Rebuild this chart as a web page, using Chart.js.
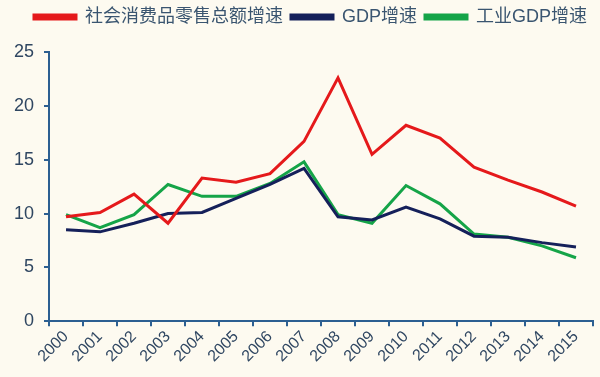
<!DOCTYPE html>
<html>
<head>
<meta charset="utf-8">
<script src="https://cdn.jsdelivr.net/npm/chart.js@4.4.0/dist/chart.umd.min.js"></script>
<style>
html,body{margin:0;padding:0;background:#fdfaf0;}
#wrap{width:600px;height:377px;position:relative;}
</style>
</head>
<body>
<div id="wrap"><canvas id="c" width="600" height="377"></canvas></div>
<script>
const categories = ['2000','2001','2002','2003','2004','2005','2006','2007','2008','2009','2010','2011','2012','2013','2014','2015'];
const retailGrowth = [9.7, 10.1, 11.8, 9.1, 13.3, 12.9, 13.7, 16.7, 22.6, 15.5, 18.2, 17.0, 14.3, 13.1, 12.0, 10.7];
const gdpGrowth = [8.5, 8.3, 9.1, 10.0, 10.1, 11.4, 12.7, 14.2, 9.7, 9.4, 10.6, 9.5, 7.9, 7.8, 7.3, 6.9];
const industryGdpGrowth = [9.9, 8.7, 9.9, 12.7, 11.6, 11.6, 12.8, 14.8, 9.9, 9.1, 12.6, 10.9, 8.1, 7.8, 7.0, 5.9];
const yTicks = [0, 5, 10, 15, 20, 25];
const seriesNames = ['社会消费品零售总额增速', 'GDP增速', '工业GDP增速'];

const axisColor = '#2c5f91';
const textColor = '#2f4661';
const legendColor = '#3a5570';
const fontFamily = '"Liberation Sans", "Noto Sans CJK SC", Arial, sans-serif';

const bgPlugin = {
  id: 'bg',
  beforeInit(chart) {
    const legend = chart.legend;
    if (legend) {
      const origFit = legend.fit;
      legend.fit = function () { origFit.call(this); this.height += 16; };
    }
  },
  afterLayout(chart) {
    if (chart.legend) {
      chart.legend.left += 12;
      chart.legend.right += 12;
    }
  },
  beforeDraw(chart) {
    const ctx = chart.ctx;
    ctx.save();
    ctx.fillStyle = '#fdfaf0';
    ctx.fillRect(0, 0, chart.width, chart.height);
    ctx.restore();
  }
};

new Chart(document.getElementById('c'), {
  type: 'line',
  data: {
    labels: categories,
    datasets: [
      { label: seriesNames[0], data: retailGrowth, borderColor: '#e5191b', backgroundColor: '#e5191b', borderWidth: 3, pointRadius: 0, tension: 0 },
      { label: seriesNames[1], data: gdpGrowth, borderColor: '#15205a', backgroundColor: '#15205a', borderWidth: 3, pointRadius: 0, tension: 0 },
      { label: seriesNames[2], data: industryGdpGrowth, borderColor: '#15a448', backgroundColor: '#15a448', borderWidth: 3, pointRadius: 0, tension: 0 }
    ]
  },
  options: {
    responsive: false,
    animation: false,
    devicePixelRatio: 1,
    layout: { padding: { left: 4, right: 7, top: 0, bottom: 10 } },
    plugins: {
      legend: {
        display: true,
        position: 'top',
        labels: {
          boxWidth: 42,
          boxHeight: 4,
          padding: 8,
          color: legendColor,
          font: { family: fontFamily, size: 18 }
        }
      },
      tooltip: { enabled: false }
    },
    scales: {
      x: {
        offset: true,
        grid: { display: true, offset: true, drawOnChartArea: false, drawTicks: true, tickLength: 5, color: axisColor, lineWidth: 2 },
        border: { display: true, color: axisColor, width: 2 },
        ticks: { color: textColor, font: { family: '"Liberation Sans", Arial, sans-serif', size: 16 }, minRotation: 45, maxRotation: 45, padding: 1, autoSkip: false }
      },
      y: {
        min: 0,
        max: 25,
        afterBuildTicks(scale) { scale.ticks = yTicks.map(v => ({ value: v })); },
        grid: { display: true, drawOnChartArea: false, drawTicks: true, tickLength: 5, color: axisColor, lineWidth: 2 },
        border: { display: true, color: axisColor, width: 2 },
        ticks: { color: textColor, font: { family: '"Liberation Sans", Arial, sans-serif', size: 18 }, padding: 10 }
      }
    }
  },
  plugins: [bgPlugin]
});
</script>
</body>
</html>
